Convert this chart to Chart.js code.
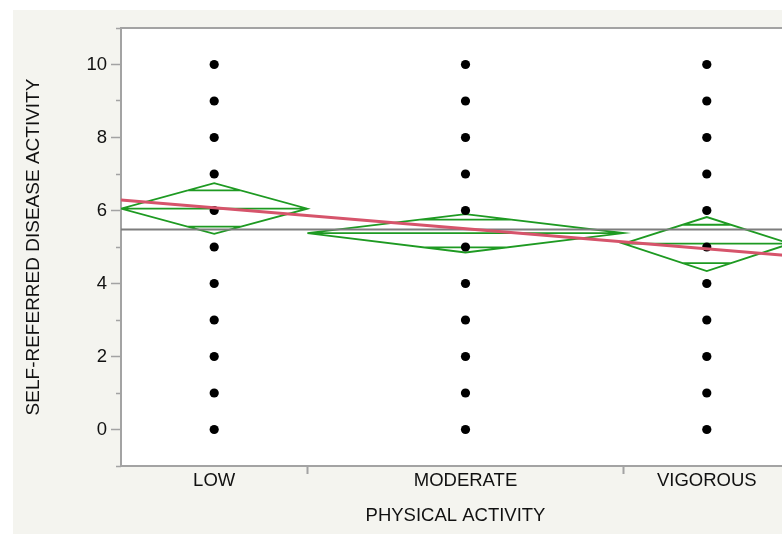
<!DOCTYPE html>
<html>
<head>
<meta charset="utf-8">
<title>Self-referred disease activity by physical activity</title>
<script src="https://cdn.jsdelivr.net/npm/chart.js@4.4.1/dist/chart.umd.min.js"></script>
<style>
  html, body { margin: 0; padding: 0; background: #fff; overflow: hidden; }
  canvas { display: block; }
</style>
</head>
<body>
<canvas id="chart" width="800" height="534"></canvas>
<script>
// Oneway plot: points per group, means diamonds, grand mean and fitted line

const categories = ['LOW', 'MODERATE', 'VIGOROUS'];
// horizontal share of each group (x axis is split by group size)
const groupWidths = [56, 95, 50];

const lowValues = [0, 1, 2, 3, 4, 5, 6, 7, 8, 9, 10];
const moderateValues = [0, 1, 2, 3, 4, 5, 6, 7, 8, 9, 10];
const vigorousValues = [0, 1, 2, 3, 4, 5, 6, 7, 8, 9, 10];

// means diamonds
const groupMeans = [6.05, 5.38, 5.09];
const ciUpper = [6.75, 5.90, 5.82];
const ciLower = [5.36, 4.85, 4.34];
const overlapUpper = [6.55, 5.75, 5.61];
const overlapLower = [5.56, 4.99, 4.56];

const grandMean = 5.48;
// fitted line, value at left end and right end of the x axis
const fitEnds = [6.29, 4.76];

const yMajorTicks = [0, 2, 4, 6, 8, 10];
const yMinorTicks = [-1, 1, 3, 5, 7, 9, 11];

const FONT = "'Liberation Sans', Arial, Helvetica, sans-serif";
const AXIS_GRAY = '#a3a3a3';
const GREEN = '#1e9a22';

// group boundaries on the x scale
const starts = [];
let acc = 0;
groupWidths.forEach(w => { starts.push(acc); acc += w; });
const xTotal = acc;
const ends = starts.map((s, i) => s + groupWidths[i]);
const centers = starts.map((s, i) => s + groupWidths[i] / 2);

const groupValues = [lowValues, moderateValues, vigorousValues];
const points = [];
groupValues.forEach((vals, i) => {
    vals.forEach(v => points.push({ x: centers[i], y: v }));
});

// one green path per group: diamond, mean line, overlap marks
function diamondPath(i) {
    const s = starts[i], e = ends[i], c = centers[i];
    const m = groupMeans[i], up = ciUpper[i], lo = ciLower[i];
    const hw = groupWidths[i] / 2;
    const fu = 1 - (overlapUpper[i] - m) / (up - m);
    const fl = 1 - (m - overlapLower[i]) / (m - lo);
    const gap = { x: c, y: null };
    return [
        { x: s, y: m }, { x: c, y: up }, { x: e, y: m }, { x: c, y: lo }, { x: s, y: m },
        { x: e, y: m }, gap,
        { x: c - fu * hw, y: overlapUpper[i] }, { x: c + fu * hw, y: overlapUpper[i] }, gap,
        { x: c - fl * hw, y: overlapLower[i] }, { x: c + fl * hw, y: overlapLower[i] }
    ];
}

const diamondSets = categories.map((name, i) => ({
    label: name + ' diamond',
    type: 'line',
    data: diamondPath(i),
    borderColor: GREEN,
    borderWidth: 1.8,
    pointRadius: 0,
    fill: false,
    tension: 0,
    spanGaps: false
}));

const backdrop = {
    id: 'backdrop',
    beforeDraw(chart) {
        const { ctx, chartArea: a, width, height } = chart;
        ctx.save();
        ctx.fillStyle = '#ffffff';
        ctx.fillRect(0, 0, width, height);
        ctx.fillStyle = '#f4f4ef';
        ctx.fillRect(13, 10, width - 13, height - 10);
        ctx.fillStyle = '#ffffff';
        ctx.fillRect(a.left, a.top, a.right - a.left, a.bottom - a.top);
        ctx.restore();
    }
};

function setTicks(list) {
    return scale => { scale.ticks = list.map(v => ({ value: v })); };
}

new Chart(document.getElementById('chart'), {
    type: 'scatter',
    data: {
        datasets: [
            {
                label: 'Fit',
                type: 'line',
                data: [{ x: 0, y: fitEnds[0] }, { x: xTotal, y: fitEnds[1] }],
                borderColor: '#d6546b',
                borderWidth: 3,
                pointRadius: 0,
                fill: false
            },
            {
                label: 'Responses',
                data: points,
                backgroundColor: '#000',
                borderWidth: 0,
                pointRadius: 4.6
            },
            {
                label: 'Grand mean',
                type: 'line',
                data: [{ x: 0, y: grandMean }, { x: xTotal, y: grandMean }],
                borderColor: '#7d7d7d',
                borderWidth: 2,
                pointRadius: 0,
                fill: false
            },
            ...diamondSets
        ]
    },
    options: {
        responsive: false,
        animation: false,
        layout: { padding: { left: 0, top: 28, right: 10, bottom: 0 } },
        plugins: {
            legend: { display: false },
            tooltip: { enabled: false }
        },
        scales: {
            x: {
                type: 'linear',
                position: 'bottom',
                weight: 0,
                min: 0,
                max: xTotal,
                afterBuildTicks: setTicks(ends.slice(0, 2)),
                ticks: { display: false },
                grid: { drawOnChartArea: false, tickLength: 8, tickColor: AXIS_GRAY, tickWidth: 2 },
                border: { display: true, color: AXIS_GRAY, width: 2 },
                afterFit: s => { s.height = 0; }
            },
            xLabels: {
                type: 'linear',
                position: 'bottom',
                weight: 1,
                min: 0,
                max: xTotal,
                afterBuildTicks: setTicks(centers),
                ticks: {
                    padding: 4,
                    color: '#111',
                    font: { family: FONT, size: 18.5 },
                    maxRotation: 0,
                    callback: (v, i) => categories[i]
                },
                grid: { display: false, drawTicks: false },
                border: { display: false },
                title: {
                    display: true,
                    text: 'PHYSICAL ACTIVITY',
                    color: '#111',
                    font: { family: FONT, size: 18.5 },
                    padding: { top: 0, bottom: 7 }
                },
                afterFit: s => { s.height = 68; }
            },
            xTop: {
                type: 'linear',
                position: 'top',
                min: 0,
                max: xTotal,
                ticks: { display: false },
                grid: { display: false, drawTicks: false },
                border: { display: true, color: AXIS_GRAY, width: 2 },
                afterFit: s => { s.height = 0; }
            },
            y: {
                type: 'linear',
                position: 'left',
                weight: 1,
                min: -1,
                max: 11,
                afterBuildTicks: setTicks(yMajorTicks),
                ticks: {
                    padding: 4,
                    color: '#111',
                    font: { family: FONT, size: 18.5 }
                },
                grid: { drawOnChartArea: false, tickLength: 10, tickColor: AXIS_GRAY, tickWidth: 1.5 },
                border: { display: true, color: AXIS_GRAY, width: 2 },
                title: {
                    display: true,
                    text: 'SELF-REFERRED DISEASE ACTIVITY',
                    color: '#111',
                    font: { family: FONT, size: 19 },
                    padding: { top: 22, bottom: 0 }
                },
                afterFit: s => { s.width = 121; }
            },
            yMinor: {
                type: 'linear',
                position: 'left',
                weight: 0,
                min: -1,
                max: 11,
                afterBuildTicks: setTicks(yMinorTicks),
                ticks: { display: false },
                grid: { drawOnChartArea: false, tickLength: 5, tickColor: AXIS_GRAY, tickWidth: 1.5 },
                border: { display: false },
                afterFit: s => { s.width = 0; }
            }
        }
    },
    plugins: [backdrop]
});
</script>
</body>
</html>
